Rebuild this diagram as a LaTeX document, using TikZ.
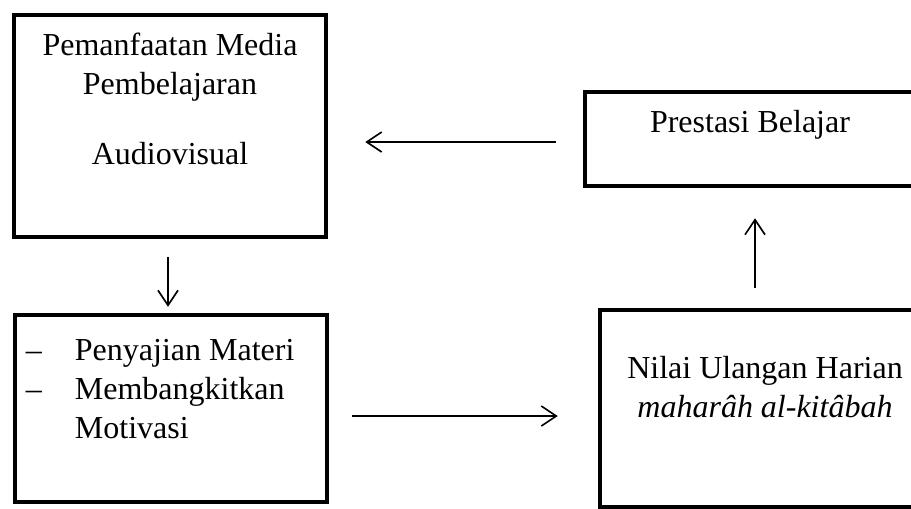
\documentclass[tikz,border=0pt]{standalone}
\usepackage{fontspec}
\setmainfont{Liberation Serif}
\usepackage{tikz}
\usetikzlibrary{arrows.meta}
\usetikzlibrary{positioning}

\begin{document}
\begin{tikzpicture}[x=1pt,y=-1pt,
	kotak/.style={draw,line width=4.5pt,inner sep=0pt},
	teks/.style={inner sep=0pt,font=\fontsize{32}{39}\selectfont},
	panah/.style={line width=1.6pt,-{Straight Barb[length=15pt,width=20pt,line width=1.6pt]}}]

	\useasboundingbox (0,0) rectangle (911,509);
	\clip (0,0) rectangle (911,509);

	% kotak
	\node[kotak,minimum width=312pt,minimum height=222pt] (media) at (170,126) {};
	\node[kotak,minimum width=330pt,minimum height=94pt] (prestasi) at (750,139) {};
	\node[kotak,minimum width=312pt,minimum height=187pt] (materi) at (171,408.5) {};
	\node[kotak,minimum width=330pt,minimum height=197pt] (nilai) at (765,408.5) {};

	% teks
	\node[teks,align=center,below=20pt of media.north] (tmedia)
		{Pemanfaatan Media\\Pembelajaran\\[31pt]Audiovisual};
	\node[teks,below=20pt of prestasi.north] (tprestasi) {Prestasi Belajar};
	\node[teks,align=left,below right=26pt and 13pt of materi.north west] (tmateri)
		{\makebox[49pt][l]{--}Penyajian Materi\\
		 \makebox[49pt][l]{--}Membangkitkan\\
		 \makebox[49pt][l]{}Motivasi};
	\node[teks,align=center,below=48pt of nilai.north] (tnilai)
		{Nilai Ulangan Harian\\\textit{maharâh al-kitâbah}};

	% panah
	\draw[panah,shorten <=27pt,shorten >=37pt] ([yshift=-3pt]prestasi.west) -- ([yshift=-3pt]prestasi.west -| media.east);
	\draw[panah,shorten <=18pt,shorten >=6pt] ([xshift=-2pt]media.south) -- ([xshift=-2pt]media.south |- materi.north);
	\draw[panah,shorten <=23pt,shorten >=40pt] ([yshift=-7.5pt]materi.east) -- ([yshift=-7.5pt]materi.east -| nilai.west);
	\draw[panah,shorten <=20pt,shorten >=30pt] ([xshift=-10pt]nilai.north) -- ([xshift=-10pt]nilai.north |- prestasi.south);
\end{tikzpicture}
\end{document}
